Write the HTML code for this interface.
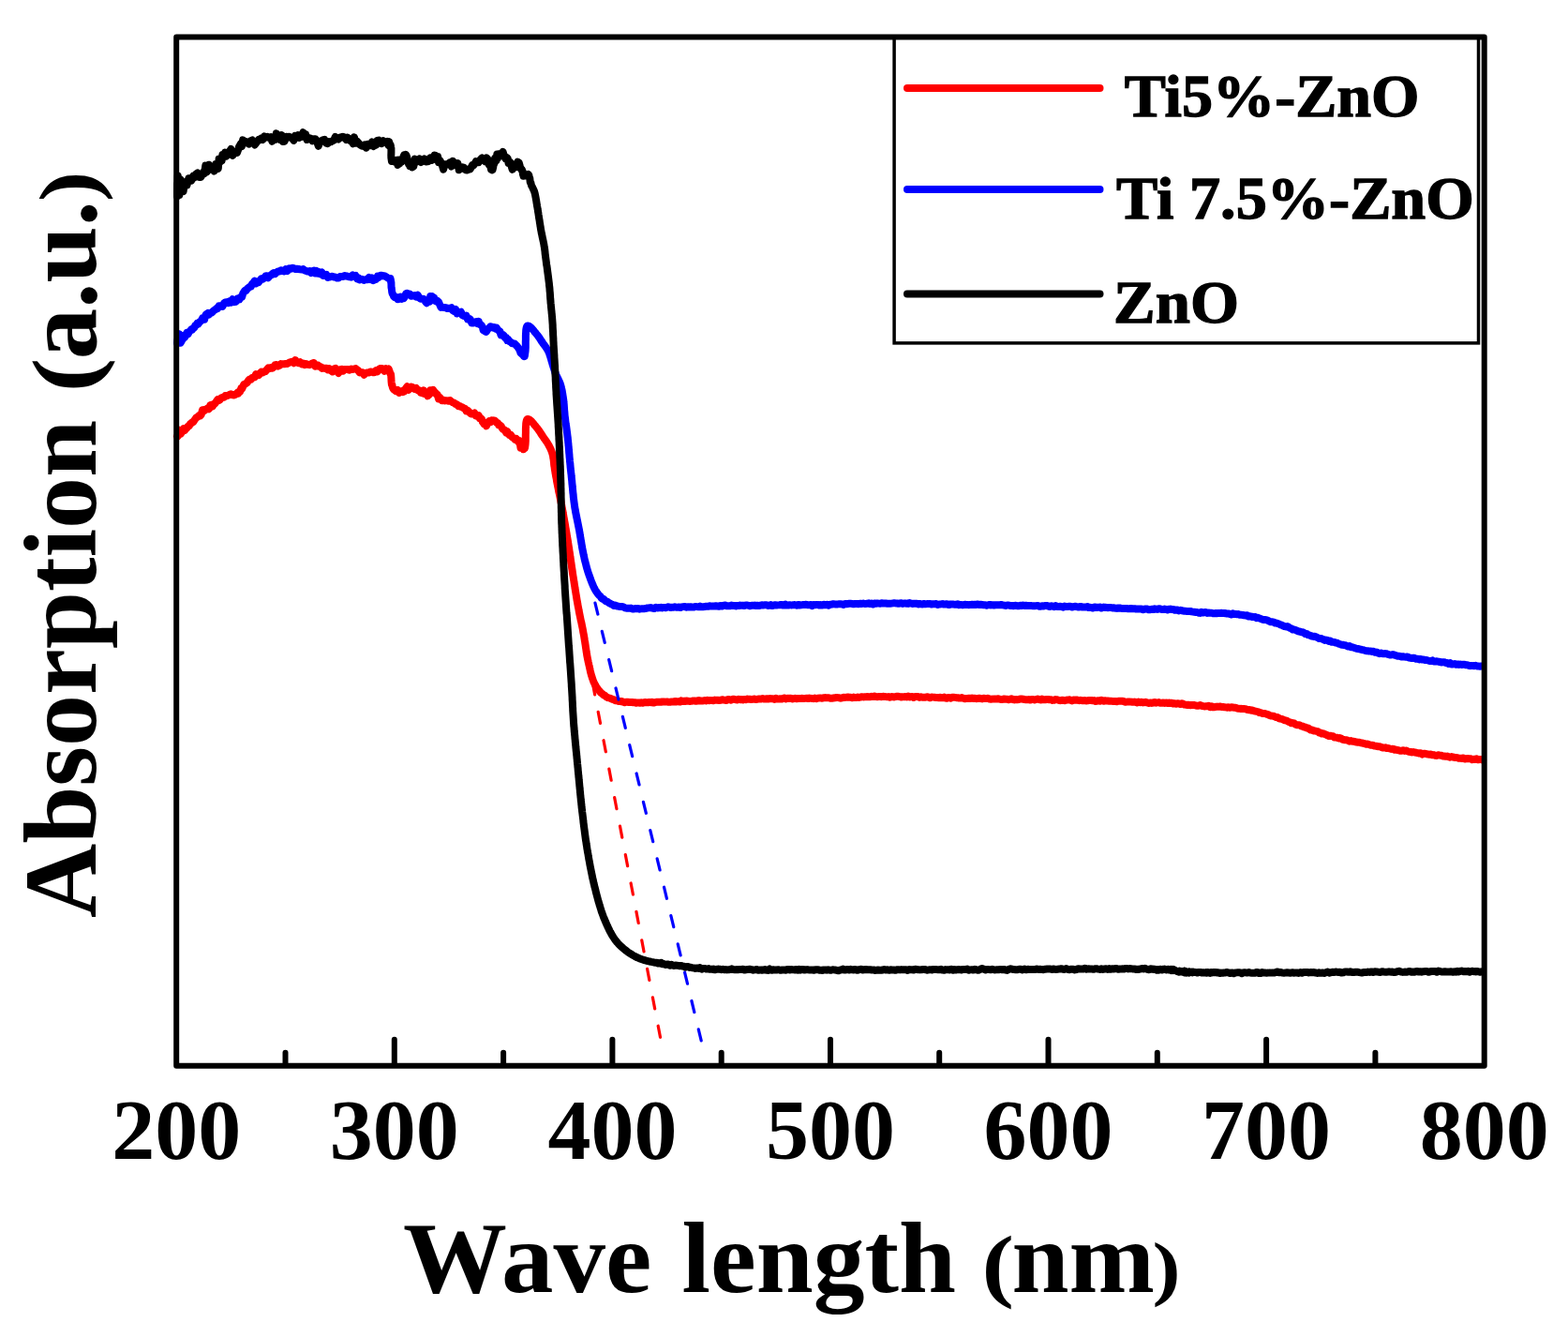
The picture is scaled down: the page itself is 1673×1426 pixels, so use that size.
<!DOCTYPE html>
<html><head><meta charset="utf-8"><title>Absorption spectra</title><style>html,body{margin:0;padding:0;background:#fff;}svg{display:block;}</style></head><body>
<svg width="1673" height="1426" viewBox="0 0 1673 1426">
<rect width="100%" height="100%" fill="#ffffff"/>
<g fill="none" stroke-width="8" stroke-linejoin="round" stroke-linecap="round">
<path d="M189.0,465.4 L189.4,465.7 L190.0,463.6 L191.1,458.6 L192.5,463.0 L194.2,460.8 L195.8,457.2 L197.0,459.1 L198.1,457.6 L199.3,456.5 L200.6,454.8 L201.8,454.3 L203.0,452.0 L204.0,451.6 L205.1,450.2 L206.1,450.2 L207.2,448.6 L208.2,447.1 L209.3,445.5 L210.4,444.9 L211.6,444.1 L212.7,442.8 L213.7,443.4 L214.8,442.1 L216.0,437.3 L217.1,437.1 L218.2,437.8 L219.4,436.6 L220.6,436.2 L221.8,435.3 L223.0,436.2 L224.3,432.1 L225.5,431.8 L226.9,433.3 L228.2,431.0 L229.6,430.2 L230.9,428.1 L232.2,426.1 L233.5,427.1 L234.8,426.3 L236.0,424.3 L237.5,423.9 L239.0,423.7 L240.4,422.0 L241.8,422.2 L243.2,421.7 L244.6,421.1 L246.3,420.2 L248.1,421.2 L249.9,421.4 L251.6,420.6 L253.2,418.9 L254.3,419.6 L255.4,417.3 L256.3,417.4 L257.3,414.1 L258.2,414.6 L259.2,412.3 L260.3,409.9 L261.4,409.7 L262.6,408.9 L263.8,408.0 L265.1,405.7 L266.4,404.5 L267.7,404.7 L269.0,403.0 L270.4,402.7 L271.7,402.4 L273.1,399.1 L274.5,400.1 L276.0,400.3 L277.5,398.0 L278.9,396.7 L280.4,397.5 L281.9,396.3 L283.3,396.2 L284.8,394.2 L286.2,392.4 L287.7,393.1 L289.1,392.1 L290.5,392.7 L292.0,391.6 L293.4,389.2 L294.8,389.1 L296.5,390.6 L298.2,389.9 L299.9,388.1 L301.6,388.3 L303.2,388.3 L304.8,388.0 L306.6,387.9 L308.4,386.8 L310.1,386.1 L312.0,385.7 L313.5,387.2 L315.1,384.1 L316.8,386.6 L318.5,387.2 L320.2,386.2 L321.9,388.3 L323.5,387.5 L325.2,389.1 L326.9,388.1 L328.5,388.8 L330.2,389.2 L331.8,388.4 L333.5,387.3 L334.9,387.0 L336.3,390.7 L337.7,389.4 L339.2,389.5 L340.6,390.9 L342.0,391.2 L343.5,392.9 L345.0,392.5 L346.6,393.0 L348.2,392.7 L349.8,394.3 L351.4,393.2 L353.1,395.3 L354.7,396.4 L356.3,393.6 L357.9,392.8 L359.6,396.0 L361.2,397.9 L362.9,394.2 L364.6,393.8 L366.2,395.5 L367.8,393.9 L369.4,394.1 L371.1,394.1 L372.9,394.7 L374.7,393.5 L376.3,394.0 L377.9,393.5 L379.4,393.1 L381.0,394.5 L382.3,395.1 L383.6,397.4 L385.2,397.1 L386.7,397.3 L388.4,399.7 L390.2,397.8 L392.0,397.4 L393.7,397.5 L395.2,396.4 L396.9,396.6 L398.4,397.3 L400.0,397.0 L401.3,395.1 L402.8,396.3 L404.2,394.1 L405.7,393.0 L407.2,392.9 L408.7,393.5 L410.2,395.7 L411.8,393.3 L413.4,395.2 L414.7,393.6 L415.8,396.7 L416.5,398.8 L417.0,399.2 L417.2,400.5 L417.4,403.2 L417.5,405.6 L417.6,407.3 L417.9,410.2 L418.2,410.0 L418.5,410.8 L418.8,412.8 L419.3,414.2 L420.1,415.5 L421.2,416.2 L422.6,417.2 L424.2,416.0 L425.8,418.9 L427.3,417.7 L428.7,417.0 L429.9,418.2 L431.0,417.7 L432.0,415.6 L433.1,414.1 L434.4,412.3 L435.7,416.0 L437.2,414.1 L438.9,412.5 L440.6,413.4 L442.3,414.9 L444.1,414.0 L445.7,416.4 L447.3,416.3 L448.9,418.7 L450.5,419.3 L452.1,416.5 L453.6,420.2 L455.1,419.2 L456.3,422.3 L457.4,421.3 L458.5,420.2 L459.2,416.3 L460.3,417.9 L461.1,418.3 L462.1,415.8 L463.1,418.3 L464.3,418.5 L465.5,420.6 L466.7,420.8 L468.0,425.4 L469.3,424.0 L470.5,425.7 L471.7,427.3 L473.4,426.8 L475.1,427.4 L476.8,427.2 L478.5,427.8 L480.3,427.1 L481.7,428.4 L483.1,429.2 L484.6,429.8 L486.1,430.9 L487.6,431.3 L489.0,433.2 L490.5,432.9 L491.8,433.9 L493.3,434.3 L494.7,435.4 L496.1,435.6 L497.5,438.4 L498.9,437.7 L500.4,439.1 L501.8,440.9 L503.3,441.6 L504.8,441.5 L506.3,440.5 L507.9,443.6 L509.3,444.1 L510.7,443.2 L511.9,446.3 L513.0,446.0 L514.0,447.0 L514.8,449.8 L515.6,450.9 L516.5,452.3 L517.6,451.1 L518.9,454.4 L520.3,451.2 L521.9,449.1 L523.4,450.1 L524.9,448.3 L526.3,448.7 L527.5,448.4 L528.7,449.4 L529.9,450.8 L531.0,450.9 L532.2,453.6 L533.4,453.6 L534.5,454.2 L535.6,456.3 L536.7,457.8 L537.8,458.3 L538.9,458.9 L540.1,461.5 L541.2,460.3 L542.4,462.1 L543.5,464.1 L545.0,463.8 L546.4,466.2 L547.9,467.0 L549.4,468.8 L550.8,467.9 L552.1,469.3 L553.3,471.5 L554.4,470.3 L555.5,477.6 L556.6,475.4 L557.6,476.7 L558.5,479.2 L559.3,478.5 L559.7,476.4 L560.0,478.1 L560.2,476.5 L560.4,475.3 L560.6,473.8 L560.7,472.1 L560.8,470.2 L560.8,468.2 L560.8,466.1 L560.8,463.9 L560.9,461.8 L560.9,459.6 L560.9,457.5 L561.0,455.5 L561.1,453.6 L561.2,451.8 L561.4,450.3 L561.7,449.0 L562.0,448.0 L562.3,447.3 L562.8,446.9 L563.7,446.9 L564.8,447.5 L566.0,448.4 L567.3,449.7 L568.6,451.2 L569.9,452.7 L571.1,454.2 L572.2,455.5 L573.2,456.7 L574.1,457.9 L575.1,459.2 L575.9,460.5 L576.8,461.8 L577.6,463.1 L578.5,464.4 L579.3,465.6 L580.3,467.1 L581.3,468.5 L582.3,469.9 L583.3,471.3 L584.2,472.7 L585.1,474.2 L585.8,475.5 L586.5,476.8 L587.2,478.2 L587.8,479.5 L588.4,481.0 L588.9,482.4 L589.4,484.0 L589.8,485.4 L590.1,486.9 L590.3,488.5 L590.6,490.0 L590.8,491.7 L591.0,493.3 L591.1,495.0 L591.3,496.7 L591.6,498.3 L591.8,500.0 L592.0,501.5 L592.3,502.9 L592.5,504.4 L592.8,505.9 L593.0,507.4 L593.3,508.8 L593.6,510.3 L593.9,511.9 L594.1,513.4 L594.4,514.9 L594.7,516.4 L595.0,518.0 L595.3,519.5 L595.6,520.9 L595.9,522.3 L596.1,523.8 L596.4,525.2 L596.8,526.7 L597.1,528.1 L597.4,529.6 L597.7,531.1 L598.0,532.7 L598.3,534.3 L598.6,535.9 L599.0,537.6 L599.3,539.3 L599.5,540.6 L599.8,541.9 L600.0,543.3 L600.3,544.7 L600.6,546.1 L600.8,547.5 L601.1,549.0 L601.3,550.5 L601.6,552.0 L601.9,553.5 L602.1,555.0 L602.4,556.6 L602.7,558.1 L603.0,559.7 L603.2,561.3 L603.5,562.9 L603.8,564.5 L604.0,566.0 L604.3,567.6 L604.6,569.2 L604.8,570.8 L605.1,572.3 L605.3,573.9 L605.6,575.4 L605.9,577.0 L606.1,578.5 L606.3,580.0 L606.6,581.5 L606.8,583.1 L607.1,584.6 L607.3,586.1 L607.5,587.7 L607.8,589.2 L608.0,590.8 L608.2,592.3 L608.4,593.9 L608.7,595.4 L608.9,597.0 L609.1,598.5 L609.3,600.0 L609.6,601.6 L609.8,603.1 L610.0,604.6 L610.2,606.1 L610.5,607.6 L610.7,609.1 L610.9,610.6 L611.1,612.1 L611.3,613.5 L611.6,615.0 L611.8,616.4 L612.0,617.8 L612.3,619.4 L612.5,621.1 L612.8,622.7 L613.0,624.3 L613.3,625.8 L613.5,627.4 L613.8,628.9 L614.0,630.5 L614.3,632.0 L614.5,633.5 L614.8,635.0 L615.0,636.6 L615.3,638.1 L615.5,639.6 L615.8,641.1 L616.1,642.6 L616.3,644.1 L616.6,645.7 L616.9,647.2 L617.2,648.7 L617.5,650.2 L617.7,651.6 L618.0,653.1 L618.3,654.6 L618.6,656.1 L618.9,657.5 L619.2,659.0 L619.5,660.5 L619.8,662.0 L620.2,663.4 L620.5,664.9 L620.8,666.4 L621.1,667.8 L621.4,669.3 L621.7,670.8 L622.0,672.3 L622.2,673.7 L622.5,675.2 L622.8,676.7 L623.1,678.3 L623.3,679.8 L623.6,681.4 L623.8,682.9 L624.1,684.5 L624.3,686.1 L624.6,687.7 L624.8,689.3 L625.0,690.8 L625.3,692.4 L625.5,694.0 L625.7,695.5 L626.0,697.1 L626.2,698.6 L626.5,700.1 L626.8,701.7 L627.1,703.2 L627.4,704.6 L627.7,706.1 L628.1,707.7 L628.4,709.3 L628.8,710.8 L629.1,712.4 L629.5,714.0 L629.8,715.6 L630.2,717.2 L630.6,718.7 L631.0,720.2 L631.5,721.7 L631.9,723.1 L632.4,724.5 L632.9,725.9 L633.4,727.2 L634.0,728.5 L634.6,729.7 L635.4,731.2 L636.2,732.5 L637.1,733.9 L638.0,735.1 L639.0,736.4 L640.0,737.5 L641.0,738.8 L642.1,739.5 L643.2,740.5 L644.4,741.6 L645.7,742.1 L647.1,743.4 L648.6,744.1 L650.1,744.5 L651.6,744.9 L653.2,745.8 L654.8,746.1 L656.5,747.2 L658.2,747.3 L659.6,747.9 L660.9,747.9 L662.3,748.2 L663.7,748.1 L665.1,748.7 L666.5,749.2 L668.0,748.7 L669.5,748.7 L671.1,749.0 L672.7,748.9 L674.3,749.0 L676.0,749.3 L677.8,749.2 L679.0,749.8 L680.3,749.4 L681.6,749.5 L682.9,749.7 L684.2,749.3 L685.6,749.8 L687.0,749.2 L688.4,749.1 L689.8,749.2 L691.3,749.3 L692.7,748.9 L694.2,749.2 L695.7,748.7 L697.2,749.6 L698.8,749.1 L700.3,748.8 L701.9,748.7 L703.5,748.8 L705.1,748.8 L706.7,748.5 L708.3,748.4 L710.0,748.6 L711.6,748.4 L713.3,748.8 L714.9,748.8 L716.6,748.4 L718.3,748.5 L720.0,747.9 L721.3,748.5 L722.7,748.2 L724.0,748.3 L725.4,748.6 L726.8,747.4 L728.2,748.1 L729.6,747.7 L731.0,748.1 L732.4,747.5 L733.8,747.7 L735.3,747.9 L736.7,747.9 L738.2,747.7 L739.7,747.4 L741.1,747.4 L742.6,747.8 L744.1,747.5 L745.6,746.9 L747.1,747.6 L748.6,747.5 L750.2,747.5 L751.7,747.1 L753.2,747.4 L754.8,746.8 L756.3,747.2 L757.9,746.9 L759.4,747.1 L761.0,747.2 L762.5,746.6 L764.1,746.8 L765.7,746.7 L767.3,747.0 L768.9,746.8 L770.5,746.2 L772.0,746.6 L773.6,746.7 L775.2,747.0 L776.8,745.9 L778.4,746.2 L780.0,746.7 L781.7,745.8 L783.3,745.8 L784.9,746.3 L786.5,746.4 L788.1,745.8 L789.7,746.2 L791.1,746.0 L792.6,746.4 L794.0,745.9 L795.5,746.2 L797.0,745.6 L798.4,745.7 L799.9,745.7 L801.4,746.1 L802.9,745.9 L804.4,745.5 L806.0,745.9 L807.5,745.9 L809.0,745.6 L810.6,745.5 L812.1,745.5 L813.7,745.0 L815.2,745.5 L816.8,745.5 L818.4,745.2 L819.9,745.6 L821.5,745.0 L823.1,745.2 L824.6,745.2 L826.2,745.9 L827.8,744.8 L829.4,745.4 L831.0,745.5 L832.6,745.3 L834.1,745.6 L835.7,744.9 L837.3,744.5 L838.9,745.4 L840.4,744.8 L842.0,745.0 L843.6,744.7 L845.2,745.4 L846.7,745.3 L848.3,744.8 L849.8,745.3 L851.4,745.0 L852.9,744.9 L854.5,744.9 L856.0,744.8 L857.5,745.1 L859.0,744.9 L860.6,744.7 L862.1,745.1 L863.6,744.6 L865.0,744.8 L866.5,744.9 L868.0,745.2 L869.4,744.5 L870.9,745.2 L872.3,744.7 L873.7,744.6 L875.1,744.4 L876.5,744.7 L877.9,744.5 L879.3,744.2 L881.0,744.1 L882.6,744.3 L884.3,744.2 L885.9,744.7 L887.6,744.7 L889.2,744.5 L890.8,744.3 L892.3,744.0 L893.9,744.1 L895.5,744.3 L897.0,744.7 L898.6,744.3 L900.1,743.8 L901.7,743.9 L903.2,743.7 L904.7,743.5 L906.2,743.7 L907.7,743.7 L909.2,744.2 L910.7,743.6 L912.2,744.0 L913.7,744.0 L915.2,743.5 L916.6,743.9 L918.1,743.6 L919.6,743.2 L921.1,743.4 L922.6,743.3 L924.1,743.2 L925.5,743.1 L927.0,743.2 L928.5,743.3 L930.0,742.8 L931.5,743.1 L933.0,742.6 L934.5,743.1 L936.0,743.2 L937.6,743.1 L939.1,743.1 L940.6,743.2 L942.2,742.8 L943.7,742.9 L945.2,743.1 L946.7,743.3 L948.2,743.1 L949.7,743.8 L951.2,743.0 L952.7,743.3 L954.1,743.4 L955.6,743.0 L957.1,742.8 L958.6,742.7 L960.1,743.2 L961.6,743.5 L963.0,743.2 L964.5,743.2 L966.0,743.1 L967.5,743.4 L969.0,742.6 L970.5,743.4 L972.0,743.3 L973.5,742.9 L975.0,744.0 L976.5,743.0 L978.1,743.1 L979.6,743.1 L981.2,743.9 L982.7,743.3 L984.3,743.8 L985.9,743.8 L987.4,743.7 L989.0,743.3 L990.6,743.5 L992.3,744.3 L993.9,743.4 L995.6,743.6 L997.2,743.8 L998.9,744.1 L1000.3,744.0 L1001.7,744.2 L1003.0,743.7 L1004.4,744.3 L1005.8,744.2 L1007.3,743.6 L1008.7,744.6 L1010.1,744.8 L1011.6,743.9 L1013.0,744.2 L1014.5,744.7 L1015.9,743.8 L1017.4,743.7 L1018.9,743.9 L1020.4,744.2 L1021.9,744.2 L1023.4,744.6 L1024.9,744.6 L1026.4,744.1 L1027.9,744.7 L1029.4,745.2 L1030.9,745.0 L1032.5,745.0 L1034.0,744.7 L1035.5,745.0 L1037.1,744.5 L1038.6,745.0 L1040.2,744.8 L1041.7,745.2 L1043.3,745.1 L1044.8,744.7 L1046.4,745.1 L1048.0,745.4 L1049.5,744.8 L1051.1,745.0 L1052.7,744.9 L1054.2,744.8 L1055.8,745.5 L1057.4,745.7 L1058.9,745.6 L1060.5,745.4 L1062.1,745.4 L1063.6,745.5 L1065.2,745.3 L1066.8,745.8 L1068.4,745.9 L1069.9,745.9 L1071.5,745.5 L1073.0,745.7 L1074.6,745.7 L1076.2,746.3 L1077.7,745.8 L1079.3,745.2 L1080.8,746.0 L1082.4,746.4 L1083.9,746.1 L1085.4,746.2 L1087.0,746.0 L1088.5,745.4 L1090.0,745.5 L1091.5,745.7 L1093.0,746.0 L1094.6,746.2 L1096.1,746.3 L1097.6,746.1 L1099.2,746.5 L1100.8,746.1 L1102.3,746.0 L1103.9,746.5 L1105.5,746.0 L1107.1,745.5 L1108.6,746.0 L1110.2,746.4 L1111.8,745.5 L1113.4,746.3 L1115.0,746.3 L1116.7,746.0 L1118.3,746.0 L1119.9,746.3 L1121.5,746.3 L1123.1,746.9 L1124.7,746.7 L1126.3,746.1 L1127.9,746.3 L1129.5,746.8 L1131.1,747.2 L1132.7,746.8 L1134.3,746.8 L1135.9,747.2 L1137.5,746.7 L1139.1,746.6 L1140.6,746.3 L1142.2,746.6 L1143.8,747.4 L1145.3,746.4 L1146.8,746.8 L1148.4,746.4 L1149.9,746.9 L1151.4,747.2 L1152.9,746.8 L1154.4,747.2 L1155.9,747.2 L1157.4,747.1 L1158.8,747.5 L1160.3,747.3 L1161.7,747.0 L1163.1,746.9 L1164.5,746.9 L1165.9,747.3 L1167.3,747.1 L1168.6,748.0 L1170.0,747.8 L1171.3,747.2 L1172.6,747.2 L1173.9,747.8 L1175.1,746.8 L1176.4,747.3 L1177.6,747.7 L1178.8,747.2 L1180.0,747.4 L1181.8,747.5 L1183.6,747.8 L1185.3,747.7 L1187.0,747.9 L1188.6,748.0 L1190.2,747.9 L1191.8,748.3 L1193.4,747.8 L1194.9,747.7 L1196.4,747.7 L1197.9,747.8 L1199.3,748.2 L1200.8,748.8 L1202.2,748.6 L1203.6,748.4 L1205.0,748.4 L1206.4,748.6 L1207.8,748.7 L1209.2,748.8 L1210.6,748.6 L1212.0,748.9 L1213.4,749.4 L1214.8,748.5 L1216.3,749.2 L1217.7,748.7 L1219.3,749.4 L1220.9,749.2 L1222.5,748.8 L1224.1,749.5 L1225.7,750.0 L1227.2,749.5 L1228.8,749.9 L1230.4,749.5 L1231.9,748.9 L1233.5,749.7 L1235.0,749.4 L1236.5,749.1 L1238.1,749.8 L1239.6,749.7 L1241.2,749.5 L1242.7,749.9 L1244.2,749.5 L1245.7,750.0 L1247.3,749.6 L1248.8,750.1 L1250.3,749.7 L1251.8,750.6 L1253.4,750.3 L1254.9,750.8 L1256.4,750.3 L1257.9,750.5 L1259.4,751.1 L1260.9,750.2 L1262.4,750.8 L1263.9,751.6 L1265.4,751.7 L1266.9,752.0 L1268.4,751.8 L1269.9,752.2 L1271.4,752.0 L1272.9,752.0 L1274.4,752.1 L1275.9,752.5 L1277.4,752.7 L1278.9,752.8 L1280.4,752.0 L1281.9,752.6 L1283.4,753.1 L1285.0,753.4 L1286.5,753.3 L1288.1,753.2 L1289.6,752.8 L1291.2,754.2 L1292.8,753.3 L1294.3,754.2 L1295.9,754.2 L1297.4,753.8 L1299.0,753.6 L1300.5,753.8 L1302.0,753.5 L1303.5,754.0 L1305.0,754.0 L1306.4,754.2 L1307.8,754.4 L1309.2,754.7 L1310.6,754.2 L1312.3,754.8 L1313.9,754.3 L1315.5,754.5 L1317.0,754.7 L1318.5,754.7 L1320.0,755.5 L1321.5,755.7 L1323.0,755.9 L1324.4,755.8 L1325.9,756.1 L1327.5,756.1 L1329.0,756.2 L1330.6,756.9 L1332.0,757.2 L1333.4,757.0 L1334.9,757.8 L1336.3,757.5 L1337.8,758.3 L1339.3,758.5 L1340.8,758.9 L1342.3,759.1 L1343.8,760.1 L1345.3,760.3 L1346.8,760.9 L1348.3,761.0 L1349.8,761.0 L1351.3,761.7 L1352.7,761.9 L1354.2,762.8 L1355.7,763.5 L1357.2,763.6 L1358.7,763.8 L1360.2,764.4 L1361.7,765.1 L1363.1,765.1 L1364.6,766.1 L1366.1,766.6 L1367.6,766.9 L1369.1,767.5 L1370.5,768.2 L1372.0,768.4 L1373.5,769.0 L1375.0,770.0 L1376.5,770.4 L1377.9,771.3 L1379.4,771.1 L1380.9,771.4 L1382.4,772.7 L1383.9,773.2 L1385.3,773.2 L1386.8,773.5 L1388.3,774.5 L1389.8,774.5 L1391.2,775.5 L1392.7,775.5 L1394.2,776.6 L1395.7,776.5 L1397.1,777.6 L1398.6,778.6 L1400.1,778.6 L1401.6,779.4 L1403.0,779.5 L1404.5,779.9 L1406.0,780.2 L1407.5,781.5 L1408.9,781.6 L1410.4,782.6 L1411.9,782.2 L1413.4,783.0 L1414.8,783.5 L1416.3,784.4 L1417.8,785.0 L1419.3,784.7 L1420.7,785.0 L1422.2,785.2 L1423.7,786.6 L1425.2,786.6 L1426.7,786.8 L1428.1,787.4 L1429.6,787.0 L1431.1,787.7 L1432.6,788.8 L1434.0,789.0 L1435.5,789.3 L1437.0,789.2 L1438.5,790.0 L1439.9,790.7 L1441.4,790.0 L1442.9,790.7 L1444.4,790.8 L1445.9,791.3 L1447.3,791.5 L1448.8,791.7 L1450.3,791.8 L1451.8,792.3 L1453.2,792.4 L1454.7,792.8 L1456.2,793.2 L1457.7,793.7 L1459.2,793.6 L1460.6,794.0 L1462.1,794.7 L1463.6,794.7 L1465.1,795.0 L1466.5,795.6 L1468.0,795.7 L1469.5,796.0 L1471.0,796.3 L1472.4,796.2 L1473.9,797.0 L1475.4,797.6 L1476.9,797.6 L1478.3,797.3 L1479.8,798.1 L1481.3,798.0 L1482.9,798.5 L1484.4,798.9 L1486.0,798.7 L1487.6,799.7 L1489.1,799.5 L1490.7,800.0 L1492.3,800.2 L1493.8,800.7 L1495.4,800.8 L1497.0,800.2 L1498.6,800.9 L1500.1,800.5 L1501.7,801.2 L1503.3,801.8 L1504.8,802.0 L1506.4,802.4 L1508.0,802.1 L1509.5,802.5 L1511.1,802.7 L1512.7,803.2 L1514.2,803.5 L1515.8,803.2 L1517.4,804.6 L1518.9,803.7 L1520.5,803.8 L1522.1,804.3 L1523.7,804.5 L1525.2,804.7 L1526.8,804.5 L1528.4,805.3 L1529.9,805.1 L1531.5,805.8 L1533.1,805.9 L1534.6,805.3 L1536.2,805.6 L1537.8,805.8 L1539.3,806.4 L1540.9,806.5 L1542.5,806.8 L1544.0,806.6 L1545.6,807.2 L1547.2,807.7 L1548.7,807.0 L1550.3,807.5 L1551.9,807.9 L1553.5,807.9 L1555.0,808.1 L1556.6,808.8 L1558.2,808.8 L1559.8,808.9 L1561.4,808.5 L1562.9,809.6 L1564.5,809.2 L1566.1,809.0 L1567.7,809.2 L1569.3,809.3 L1570.9,810.2 L1572.5,809.8 L1574.1,809.9 L1575.6,809.3 L1577.2,810.3 L1578.8,809.9 L1580.4,810.0 L1582.0,810.7" stroke="#ff0000"/>
<path d="M189.0,365.5 L189.4,362.9 L190.0,362.3 L191.1,356.2 L192.5,365.8 L194.2,363.0 L195.8,358.2 L197.0,360.0 L198.1,357.9 L199.3,354.9 L200.6,356.3 L201.8,354.0 L203.0,352.9 L204.0,351.4 L205.1,351.7 L206.1,350.0 L207.2,349.6 L208.2,347.3 L209.3,346.9 L210.4,344.8 L211.6,345.4 L212.7,343.8 L213.7,342.9 L214.8,342.0 L216.0,339.5 L217.1,340.3 L218.2,340.6 L219.4,335.9 L220.6,334.8 L221.8,334.0 L223.0,335.4 L224.3,333.8 L225.5,333.8 L226.9,332.5 L228.2,331.1 L229.6,330.3 L230.9,329.0 L232.2,329.2 L233.5,326.3 L234.8,326.3 L236.0,326.2 L237.5,326.9 L239.0,323.5 L240.4,322.4 L241.8,322.2 L243.2,323.1 L244.6,321.4 L246.3,322.6 L248.1,319.3 L249.9,322.2 L251.6,321.8 L253.2,318.8 L254.3,319.5 L255.4,319.5 L256.3,317.1 L257.3,316.6 L258.2,316.6 L259.2,313.1 L260.3,311.3 L261.4,309.7 L262.6,310.0 L263.8,308.0 L265.1,307.0 L266.4,306.0 L267.7,305.7 L269.0,302.9 L270.4,301.5 L271.7,299.7 L273.1,302.4 L274.5,300.5 L276.0,301.1 L277.5,298.8 L278.9,297.2 L280.4,297.7 L281.9,296.4 L283.3,294.5 L284.8,294.2 L286.2,296.2 L287.7,294.1 L289.1,293.5 L290.5,292.2 L292.0,291.2 L293.4,292.2 L294.8,290.7 L296.5,289.5 L298.2,289.6 L299.9,288.3 L301.6,289.0 L303.2,289.5 L304.8,287.2 L306.6,288.9 L308.4,286.4 L310.1,286.8 L312.0,285.7 L313.5,286.4 L315.1,286.9 L316.8,286.8 L318.5,287.0 L320.2,287.4 L321.9,287.6 L323.5,287.1 L325.2,288.5 L326.9,289.1 L328.5,289.5 L330.2,289.1 L331.8,291.0 L333.5,289.0 L334.9,288.6 L336.3,291.4 L337.7,289.0 L339.2,291.6 L340.6,290.3 L342.0,292.3 L343.5,290.5 L345.0,293.9 L346.6,293.3 L348.2,292.9 L349.8,296.0 L351.4,295.5 L353.1,295.1 L354.7,294.7 L356.3,295.6 L357.9,295.6 L359.6,296.6 L361.2,296.6 L362.9,295.1 L364.6,295.0 L366.2,294.9 L367.8,293.9 L369.4,294.5 L371.1,294.8 L372.9,295.3 L374.7,295.7 L376.3,293.4 L377.9,294.7 L379.4,294.0 L381.0,297.4 L382.3,296.5 L383.6,298.4 L385.2,297.8 L386.7,298.0 L388.4,298.9 L390.2,298.0 L392.0,298.3 L393.7,296.0 L395.2,298.0 L396.9,296.4 L398.4,299.1 L400.0,296.9 L401.3,297.8 L402.8,294.6 L404.2,295.7 L405.7,293.7 L407.2,293.8 L408.7,294.4 L410.2,294.2 L411.8,295.2 L413.4,296.2 L414.7,296.9 L415.8,297.1 L416.5,297.0 L417.0,299.1 L417.2,301.5 L417.4,301.4 L417.5,306.1 L417.6,306.9 L417.9,308.4 L418.2,311.3 L418.5,312.6 L418.8,313.6 L419.3,313.8 L420.1,316.2 L421.2,317.1 L422.6,316.7 L424.2,319.2 L425.8,319.1 L427.3,316.8 L428.7,318.8 L429.9,316.8 L431.0,318.0 L432.0,316.4 L433.1,313.3 L434.4,312.8 L435.7,313.7 L437.2,313.5 L438.9,315.7 L440.6,315.4 L442.3,315.1 L444.1,316.6 L445.7,314.7 L447.3,317.6 L448.9,318.8 L450.5,318.7 L452.1,319.0 L453.6,321.2 L455.1,323.2 L456.3,321.9 L457.4,320.5 L458.5,321.6 L459.2,316.0 L460.3,317.1 L461.1,316.2 L462.1,318.3 L463.1,317.5 L464.3,321.0 L465.5,321.4 L466.7,320.9 L468.0,322.1 L469.3,325.1 L470.5,327.8 L471.7,327.4 L473.4,328.0 L475.1,327.9 L476.8,329.0 L478.5,328.8 L480.3,329.1 L481.7,328.3 L483.1,331.1 L484.6,332.0 L486.1,330.0 L487.6,334.4 L489.0,333.6 L490.5,333.2 L491.8,332.6 L493.3,336.1 L494.7,337.0 L496.1,336.8 L497.5,336.6 L498.9,340.5 L500.4,339.7 L501.8,340.6 L503.3,344.6 L504.8,344.5 L506.3,344.0 L507.9,343.2 L509.3,345.0 L510.7,342.9 L511.9,346.1 L513.0,346.4 L514.0,347.4 L514.8,348.6 L515.6,352.1 L516.5,352.7 L517.6,353.4 L518.9,353.9 L520.3,351.4 L521.9,349.9 L523.4,348.2 L524.9,348.8 L526.3,349.7 L527.5,349.1 L528.7,350.6 L529.9,349.8 L531.0,351.7 L532.2,352.7 L533.4,353.4 L534.5,357.4 L535.6,357.5 L536.7,357.1 L537.8,358.2 L538.9,360.2 L540.1,360.0 L541.2,363.0 L542.4,362.3 L543.5,364.2 L545.0,364.7 L546.4,366.2 L547.9,366.2 L549.4,366.8 L550.8,368.4 L552.1,369.7 L553.3,371.4 L554.4,373.3 L555.5,376.5 L556.6,377.4 L557.6,377.7 L558.5,379.5 L559.3,378.3 L559.7,380.1 L560.0,378.6 L560.2,377.0 L560.4,375.8 L560.6,374.3 L560.7,372.6 L560.8,370.7 L560.8,368.7 L560.8,366.6 L560.8,364.4 L560.9,362.3 L560.9,360.1 L560.9,358.0 L561.0,356.0 L561.1,354.1 L561.2,352.3 L561.4,350.8 L561.7,349.5 L562.0,348.5 L562.3,347.8 L562.8,347.4 L563.7,347.4 L564.8,348.0 L566.0,348.9 L567.3,350.2 L568.6,351.7 L569.9,353.2 L571.1,354.7 L572.2,356.0 L573.2,357.2 L574.1,358.4 L575.1,359.7 L575.9,361.0 L576.8,362.3 L577.6,363.6 L578.5,364.9 L579.3,366.1 L580.3,367.5 L581.4,368.9 L582.4,370.3 L583.3,371.7 L584.3,373.1 L585.1,374.7 L585.7,376.0 L586.2,377.4 L586.7,378.9 L587.2,380.4 L587.7,382.0 L588.1,383.5 L588.5,385.1 L589.0,386.6 L589.4,388.0 L589.9,389.6 L590.4,391.2 L590.9,392.8 L591.4,394.4 L591.9,395.9 L592.4,397.4 L593.0,399.0 L593.6,400.4 L594.2,401.7 L594.9,403.0 L595.6,404.4 L596.2,405.7 L596.9,407.1 L597.5,408.5 L598.0,410.0 L598.4,411.4 L598.8,412.8 L599.1,414.2 L599.5,415.7 L599.8,417.2 L600.0,418.7 L600.3,420.3 L600.5,421.8 L600.8,423.4 L601.0,425.0 L601.2,426.4 L601.4,427.9 L601.5,429.3 L601.7,430.8 L601.8,432.3 L601.9,433.8 L602.0,435.3 L602.1,436.9 L602.2,438.4 L602.4,440.0 L602.5,441.5 L602.6,443.1 L602.8,444.6 L603.0,446.1 L603.2,447.6 L603.3,449.0 L603.5,450.5 L603.7,452.0 L604.0,453.5 L604.2,454.9 L604.4,456.4 L604.6,457.9 L604.8,459.5 L605.0,461.0 L605.2,462.6 L605.4,464.2 L605.6,465.8 L605.8,467.2 L605.9,468.7 L606.1,470.2 L606.2,471.8 L606.4,473.3 L606.5,474.9 L606.7,476.5 L606.8,478.2 L607.0,479.8 L607.1,481.4 L607.2,483.0 L607.4,484.6 L607.5,486.2 L607.6,487.7 L607.8,489.2 L607.9,490.7 L608.0,492.1 L608.2,493.5 L608.3,494.8 L608.5,496.5 L608.6,498.1 L608.8,499.6 L608.9,501.0 L609.1,502.4 L609.2,503.8 L609.4,505.2 L609.6,506.7 L609.7,508.3 L609.9,510.0 L610.0,511.3 L610.2,512.7 L610.3,514.1 L610.4,515.6 L610.6,517.1 L610.7,518.6 L610.9,520.2 L611.0,521.8 L611.2,523.4 L611.3,525.0 L611.5,526.6 L611.7,528.3 L611.8,529.9 L612.0,531.5 L612.2,533.1 L612.4,534.7 L612.6,536.3 L612.8,537.8 L613.0,539.3 L613.2,540.8 L613.5,542.4 L613.8,543.9 L614.0,545.4 L614.3,546.9 L614.6,548.4 L614.9,549.9 L615.2,551.4 L615.5,552.8 L615.8,554.3 L616.1,555.8 L616.4,557.3 L616.7,558.8 L617.0,560.3 L617.3,561.8 L617.6,563.3 L617.9,564.8 L618.2,566.3 L618.4,567.8 L618.7,569.4 L619.0,570.9 L619.2,572.5 L619.5,574.0 L619.7,575.6 L620.0,577.1 L620.3,578.7 L620.5,580.3 L620.8,581.8 L621.0,583.4 L621.3,584.9 L621.6,586.4 L621.9,587.9 L622.2,589.4 L622.5,590.9 L622.8,592.3 L623.2,593.9 L623.5,595.6 L623.9,597.2 L624.3,598.8 L624.7,600.3 L625.1,601.9 L625.5,603.4 L625.9,605.0 L626.3,606.5 L626.8,608.0 L627.2,609.5 L627.7,611.0 L628.2,612.4 L628.7,613.9 L629.3,615.5 L629.8,617.0 L630.4,618.6 L631.0,620.2 L631.6,621.7 L632.3,623.3 L632.9,624.7 L633.6,626.2 L634.3,627.6 L635.0,629.0 L635.8,630.3 L636.6,631.5 L637.5,632.8 L638.5,634.1 L639.6,635.3 L640.6,636.0 L641.7,637.8 L642.8,638.8 L644.0,638.7 L645.2,640.2 L646.4,641.2 L647.7,641.6 L649.1,642.6 L650.5,643.3 L651.9,644.3 L653.4,644.8 L654.9,646.0 L656.5,645.6 L658.2,646.5 L659.5,646.6 L660.9,647.0 L662.3,646.9 L663.8,646.9 L665.3,647.5 L666.8,648.3 L668.4,648.7 L669.9,648.7 L671.5,648.8 L673.1,648.6 L674.7,649.4 L676.2,649.5 L677.8,649.0 L679.3,649.3 L680.8,649.0 L682.2,649.7 L683.6,649.4 L685.0,649.2 L686.4,649.2 L687.9,649.2 L689.4,648.8 L690.9,648.4 L692.5,648.3 L694.2,648.1 L696.0,648.6 L698.0,649.0 L700.0,647.8 L701.0,648.3 L702.1,648.4 L703.2,647.9 L704.3,648.2 L705.5,647.8 L706.7,648.4 L707.9,647.9 L709.1,648.0 L710.4,648.2 L711.7,647.8 L713.0,647.3 L714.4,647.7 L715.7,648.0 L717.1,647.7 L718.5,647.8 L720.0,647.3 L721.5,647.7 L722.9,647.8 L724.4,647.5 L725.9,648.1 L727.5,647.4 L729.0,647.1 L730.6,646.9 L732.2,647.7 L733.8,647.2 L735.4,647.5 L737.0,647.3 L738.6,647.6 L740.3,647.5 L741.9,646.9 L743.6,647.1 L745.2,647.3 L746.9,646.5 L748.6,647.3 L750.3,647.2 L751.9,647.1 L753.6,646.7 L755.3,646.8 L757.0,646.3 L758.7,646.6 L760.4,646.4 L762.1,646.5 L763.8,646.3 L765.4,646.5 L767.1,646.7 L768.8,646.0 L770.5,646.6 L772.1,645.7 L773.8,645.6 L775.4,646.2 L777.1,646.2 L778.7,646.3 L780.3,645.6 L781.9,646.0 L783.5,646.1 L785.1,646.4 L786.6,645.9 L788.2,646.1 L789.7,645.6 L791.2,645.8 L792.7,645.7 L794.3,646.0 L795.8,645.5 L797.4,645.5 L798.9,645.9 L800.4,646.3 L802.0,645.8 L803.5,645.8 L805.1,645.6 L806.7,646.0 L808.2,645.8 L809.8,646.1 L811.4,645.7 L812.9,645.3 L814.5,645.4 L816.1,645.3 L817.6,645.2 L819.2,645.9 L820.8,645.8 L822.3,645.1 L823.9,646.0 L825.5,645.6 L827.0,645.2 L828.6,645.6 L830.2,645.4 L831.7,645.2 L833.3,644.9 L834.9,645.4 L836.4,645.5 L838.0,644.6 L839.5,645.6 L841.1,645.6 L842.6,645.2 L844.1,645.4 L845.7,645.3 L847.2,645.1 L848.7,645.2 L850.3,645.7 L851.8,644.9 L853.3,645.4 L854.8,645.3 L856.3,645.1 L857.8,645.1 L859.3,644.8 L860.8,645.0 L862.2,645.2 L863.7,645.3 L865.2,644.9 L866.6,646.1 L868.1,645.0 L869.5,645.2 L870.9,645.1 L872.3,645.0 L873.8,645.5 L875.2,644.9 L876.5,645.4 L877.9,645.4 L879.3,644.7 L881.0,645.3 L882.6,644.7 L884.3,645.7 L885.9,644.7 L887.6,644.5 L889.2,644.2 L890.8,644.4 L892.3,644.5 L893.9,644.4 L895.5,644.2 L897.0,644.3 L898.6,644.4 L900.1,644.9 L901.7,643.9 L903.2,644.2 L904.7,644.0 L906.2,643.8 L907.7,643.8 L909.2,643.9 L910.7,644.3 L912.2,644.0 L913.7,643.9 L915.2,644.2 L916.6,644.0 L918.1,643.8 L919.6,644.0 L921.1,643.6 L922.6,644.0 L924.1,643.9 L925.5,643.6 L927.0,643.3 L928.5,644.1 L930.0,643.6 L931.5,644.5 L933.0,643.4 L934.5,643.8 L936.0,643.4 L937.6,643.6 L939.1,643.8 L940.6,643.3 L942.2,643.5 L943.7,643.5 L945.2,643.5 L946.7,643.7 L948.2,643.8 L949.7,643.8 L951.2,643.6 L952.7,643.4 L954.1,643.2 L955.6,643.4 L957.1,643.4 L958.6,643.8 L960.1,643.5 L961.6,643.3 L963.0,643.9 L964.5,643.5 L966.0,643.5 L967.5,643.7 L969.0,643.9 L970.5,643.1 L972.0,643.5 L973.5,643.9 L975.0,643.8 L976.5,643.7 L978.1,643.8 L979.6,644.4 L981.2,643.9 L982.7,644.3 L984.3,644.4 L985.9,644.0 L987.4,644.3 L989.0,644.1 L990.6,644.1 L992.3,643.9 L993.9,644.6 L995.6,644.2 L997.2,644.2 L998.9,644.1 L1000.3,645.0 L1001.7,644.7 L1003.0,644.4 L1004.4,644.3 L1005.8,644.1 L1007.3,644.6 L1008.7,644.6 L1010.1,644.2 L1011.6,644.9 L1013.0,644.9 L1014.5,644.4 L1015.9,644.5 L1017.4,644.6 L1018.9,644.8 L1020.4,644.7 L1021.9,644.3 L1023.4,645.2 L1024.9,644.9 L1026.4,645.2 L1027.9,645.2 L1029.4,644.8 L1030.9,645.0 L1032.5,645.1 L1034.0,645.2 L1035.5,644.9 L1037.1,644.8 L1038.6,645.0 L1040.2,644.8 L1041.7,644.9 L1043.3,644.5 L1044.8,645.1 L1046.4,644.8 L1048.0,645.0 L1049.5,645.2 L1051.1,645.3 L1052.7,645.8 L1054.2,645.3 L1055.8,644.9 L1057.4,645.4 L1058.9,645.2 L1060.5,645.5 L1062.1,645.2 L1063.7,645.2 L1065.2,645.3 L1066.8,645.3 L1068.4,645.0 L1069.9,645.3 L1071.5,645.6 L1073.0,646.0 L1074.6,645.5 L1076.2,645.5 L1077.7,645.9 L1079.3,645.9 L1080.8,646.2 L1082.4,646.0 L1083.9,645.8 L1085.4,646.2 L1087.0,646.3 L1088.5,645.8 L1090.0,646.0 L1091.5,645.5 L1093.0,645.9 L1094.6,645.8 L1096.1,646.0 L1097.6,645.9 L1099.2,646.1 L1100.8,646.1 L1102.3,646.3 L1103.9,646.3 L1105.5,646.1 L1107.1,645.9 L1108.7,646.7 L1110.2,646.8 L1111.8,646.3 L1113.4,646.6 L1115.0,646.0 L1116.7,646.0 L1118.3,646.4 L1119.9,647.0 L1121.5,646.3 L1123.1,646.4 L1124.7,647.2 L1126.3,646.1 L1127.9,646.9 L1129.5,646.9 L1131.1,646.8 L1132.7,646.9 L1134.3,647.7 L1135.9,646.6 L1137.5,646.9 L1139.1,646.9 L1140.6,646.8 L1142.2,646.7 L1143.8,647.6 L1145.3,647.2 L1146.8,646.7 L1148.4,647.0 L1149.9,647.4 L1151.4,647.4 L1152.9,646.9 L1154.4,647.4 L1155.9,647.5 L1157.4,647.6 L1158.8,647.6 L1160.3,647.0 L1161.7,648.1 L1163.1,647.7 L1164.5,648.2 L1165.9,648.5 L1167.3,647.7 L1168.6,647.4 L1170.0,648.1 L1171.3,647.8 L1172.6,647.7 L1173.9,647.6 L1175.1,648.5 L1176.4,647.9 L1177.6,647.6 L1178.8,647.9 L1180.0,647.8 L1181.8,648.2 L1183.6,648.1 L1185.3,648.0 L1187.0,648.5 L1188.6,648.2 L1190.2,648.7 L1191.8,648.9 L1193.4,648.5 L1194.9,648.5 L1196.4,648.8 L1197.9,649.1 L1199.3,648.9 L1200.8,649.0 L1202.2,649.0 L1203.6,649.2 L1205.0,649.3 L1206.4,649.0 L1207.8,649.1 L1209.2,649.3 L1210.6,649.2 L1212.0,649.5 L1213.4,649.6 L1214.8,649.5 L1216.3,649.4 L1217.7,649.4 L1219.3,650.2 L1220.9,649.9 L1222.5,649.4 L1224.1,649.5 L1225.7,650.3 L1227.2,650.2 L1228.8,649.8 L1230.4,650.1 L1231.9,649.3 L1233.5,649.7 L1235.0,649.9 L1236.5,649.2 L1238.1,649.5 L1239.6,650.0 L1241.2,650.1 L1242.7,649.6 L1244.2,649.9 L1245.7,650.4 L1247.3,649.8 L1248.8,649.6 L1250.3,650.1 L1251.8,650.1 L1253.4,650.7 L1254.9,650.5 L1256.4,650.4 L1257.9,651.5 L1259.4,650.8 L1260.9,651.3 L1262.4,651.5 L1263.9,651.8 L1265.4,651.8 L1266.9,652.1 L1268.4,652.1 L1269.9,651.9 L1271.4,652.4 L1272.9,652.6 L1274.4,652.8 L1275.9,653.0 L1277.4,653.0 L1278.9,653.7 L1280.4,653.9 L1281.9,652.8 L1283.4,653.6 L1285.0,653.4 L1286.5,652.9 L1288.1,653.9 L1289.6,653.6 L1291.2,653.7 L1292.8,653.7 L1294.3,654.2 L1295.9,654.3 L1297.4,654.0 L1299.0,654.2 L1300.5,653.9 L1302.0,654.0 L1303.5,653.8 L1305.0,654.1 L1306.4,653.9 L1307.8,654.3 L1309.2,654.5 L1310.6,654.5 L1312.3,654.9 L1313.9,655.5 L1315.5,654.2 L1317.0,655.0 L1318.5,655.0 L1320.0,655.2 L1321.5,655.1 L1322.9,655.7 L1324.4,655.8 L1325.9,655.9 L1327.5,656.3 L1329.0,656.4 L1330.6,656.2 L1332.0,657.5 L1333.4,657.3 L1334.9,657.4 L1336.3,658.1 L1337.8,658.1 L1339.3,657.9 L1340.8,659.2 L1342.3,658.8 L1343.8,659.5 L1345.3,660.0 L1346.8,660.7 L1348.3,661.0 L1349.8,661.1 L1351.3,661.2 L1352.7,661.7 L1354.2,662.6 L1355.7,663.2 L1357.2,663.3 L1358.7,663.4 L1360.2,664.4 L1361.7,664.5 L1363.1,665.0 L1364.6,665.5 L1366.1,666.3 L1367.6,666.7 L1369.1,667.5 L1370.5,668.1 L1372.0,668.4 L1373.5,668.1 L1375.0,668.9 L1376.5,670.0 L1377.9,670.4 L1379.4,671.6 L1380.9,671.5 L1382.4,672.0 L1383.9,672.8 L1385.3,673.4 L1386.8,673.5 L1388.3,674.3 L1389.8,674.3 L1391.2,674.9 L1392.7,676.1 L1394.2,675.9 L1395.6,677.1 L1397.1,677.5 L1398.6,678.1 L1400.1,678.6 L1401.6,679.0 L1403.0,678.7 L1404.5,679.5 L1406.0,680.1 L1407.5,681.0 L1408.9,680.9 L1410.4,681.4 L1411.9,682.0 L1413.4,682.9 L1414.8,682.5 L1416.3,682.9 L1417.8,683.9 L1419.3,683.5 L1420.7,684.7 L1422.2,684.8 L1423.7,684.9 L1425.2,685.6 L1426.7,685.8 L1428.1,686.6 L1429.6,687.0 L1431.1,687.7 L1432.6,687.7 L1434.0,688.1 L1435.5,688.3 L1437.0,688.9 L1438.5,689.6 L1439.9,689.1 L1441.4,690.2 L1442.9,690.3 L1444.4,690.8 L1445.8,691.3 L1447.3,691.8 L1448.8,692.0 L1450.3,692.2 L1451.8,692.7 L1453.2,693.0 L1454.7,693.2 L1456.2,693.7 L1457.8,694.2 L1459.3,694.3 L1460.9,694.6 L1462.5,694.4 L1464.0,695.0 L1465.6,694.8 L1467.2,695.8 L1468.7,695.6 L1470.3,696.5 L1471.9,697.2 L1473.4,696.5 L1475.0,697.2 L1476.6,697.2 L1478.2,697.1 L1479.7,697.3 L1481.3,698.0 L1482.9,698.5 L1484.4,698.4 L1486.0,698.1 L1487.6,698.5 L1489.1,699.0 L1490.7,699.7 L1492.3,699.7 L1493.8,699.9 L1495.4,700.5 L1497.0,700.3 L1498.6,700.6 L1500.1,700.8 L1501.7,700.5 L1503.3,701.5 L1504.8,701.7 L1506.4,702.1 L1508.0,701.7 L1509.5,702.0 L1511.1,702.8 L1512.7,702.8 L1514.2,703.4 L1515.8,702.9 L1517.4,703.5 L1518.9,703.4 L1520.5,704.0 L1522.1,704.0 L1523.7,704.5 L1525.2,704.9 L1526.8,705.0 L1528.4,704.4 L1529.9,705.5 L1531.5,705.5 L1533.1,705.3 L1534.6,705.6 L1536.2,706.0 L1537.8,706.4 L1539.3,706.3 L1540.9,706.2 L1542.5,707.0 L1544.0,707.1 L1545.6,708.0 L1547.2,707.1 L1548.7,708.4 L1550.3,708.4 L1551.9,708.1 L1553.5,708.7 L1555.0,708.5 L1556.6,708.9 L1558.1,708.5 L1559.6,708.9 L1561.1,708.8 L1562.6,708.7 L1564.1,709.3 L1565.6,709.3 L1567.0,709.8 L1568.5,710.2 L1570.0,709.9 L1571.5,710.1 L1573.0,710.2 L1574.5,709.8 L1576.0,710.5 L1577.5,710.6 L1579.0,710.7 L1580.5,710.5 L1582.0,710.4" stroke="#0000ff"/>
<path d="M189.0,209.1 L189.1,195.9 L189.2,201.4 L189.3,196.9 L189.4,195.1 L189.6,193.8 L189.7,187.5 L189.8,190.6 L189.9,188.2 L190.0,198.3 L190.1,191.0 L190.2,190.8 L190.3,192.8 L190.4,194.0 L190.5,195.4 L190.6,199.4 L190.7,203.7 L190.8,203.7 L190.9,207.9 L191.0,205.5 L191.1,205.6 L191.3,208.1 L191.5,203.7 L191.6,198.9 L191.8,197.4 L192.0,197.0 L192.1,198.6 L192.3,191.8 L192.5,191.4 L192.7,195.1 L192.8,191.9 L192.9,195.5 L193.0,200.7 L193.2,202.1 L193.5,202.5 L194.0,204.7 L194.7,195.6 L195.6,204.2 L196.6,197.8 L197.6,194.4 L198.7,197.7 L199.5,197.6 L200.4,193.4 L201.3,190.4 L202.3,191.8 L203.2,190.2 L204.2,192.7 L205.2,189.9 L206.3,187.6 L207.3,189.4 L209.0,185.8 L210.8,184.5 L212.6,189.0 L214.4,189.0 L215.6,186.3 L216.9,183.8 L218.1,185.1 L219.3,176.6 L220.5,183.6 L221.7,182.0 L223.0,175.7 L224.8,180.0 L226.7,177.8 L228.5,182.6 L230.2,175.0 L231.2,177.1 L232.0,180.2 L232.8,179.8 L233.6,169.6 L234.3,172.1 L235.0,172.3 L235.8,168.7 L236.6,171.7 L237.4,164.9 L238.7,166.6 L240.1,162.6 L241.5,166.6 L243.1,163.0 L244.7,161.8 L246.4,159.0 L248.2,165.8 L250.0,163.7 L251.7,163.1 L252.9,163.0 L254.0,160.1 L255.0,156.7 L256.0,154.8 L257.0,153.2 L258.0,156.1 L259.1,149.4 L260.3,150.4 L261.9,150.8 L263.6,152.3 L265.4,153.6 L267.2,150.4 L269.0,149.5 L270.4,152.6 L271.8,154.5 L273.2,152.8 L274.6,150.8 L276.0,148.8 L277.5,149.2 L278.9,147.4 L280.4,148.9 L282.0,145.3 L283.7,146.7 L285.3,145.9 L287.0,147.0 L288.7,146.2 L290.3,150.8 L291.9,148.8 L293.4,149.0 L294.8,142.4 L296.3,146.4 L297.7,146.4 L299.1,149.2 L300.5,144.0 L302.0,151.0 L303.6,150.7 L305.3,145.7 L306.9,145.9 L308.6,145.8 L310.2,146.9 L311.9,147.6 L313.4,149.9 L314.9,144.9 L316.4,146.1 L317.8,144.3 L319.2,146.9 L320.6,144.5 L322.0,145.7 L323.4,141.2 L324.7,143.6 L326.1,143.3 L327.5,149.0 L328.9,148.3 L330.4,147.3 L332.0,147.8 L333.4,150.2 L334.9,148.3 L336.5,148.2 L338.2,151.4 L339.8,155.8 L341.5,150.6 L343.2,150.2 L344.8,149.2 L346.4,148.9 L347.9,152.6 L349.6,153.1 L351.3,151.1 L353.0,151.3 L354.6,150.3 L356.1,149.8 L357.7,146.0 L359.3,147.8 L361.0,148.6 L362.7,146.4 L364.4,146.7 L366.0,145.7 L367.7,146.6 L369.4,149.0 L370.8,146.7 L372.2,147.7 L373.7,150.2 L375.1,150.4 L376.6,153.2 L378.0,146.3 L379.5,152.8 L380.9,150.6 L382.5,152.4 L384.2,154.4 L385.8,155.5 L387.5,155.9 L389.1,154.5 L390.7,157.6 L392.3,153.8 L393.8,153.8 L395.4,155.1 L396.9,151.5 L398.4,156.1 L399.8,153.0 L401.2,154.7 L402.4,150.0 L404.1,149.6 L405.6,151.3 L407.2,153.0 L409.0,150.3 L410.9,152.0 L412.8,151.0 L414.3,154.7 L415.2,151.1 L415.9,155.9 L416.4,154.1 L416.8,155.1 L417.2,157.3 L417.4,157.9 L417.4,162.3 L417.3,165.9 L417.3,165.9 L417.4,168.5 L417.9,172.0 L418.8,170.8 L420.1,172.2 L421.5,172.7 L423.0,170.9 L424.4,176.0 L425.5,170.6 L426.6,174.4 L427.7,171.6 L428.9,172.3 L430.0,168.3 L431.1,165.4 L432.1,166.8 L433.0,164.8 L433.7,166.1 L434.3,167.9 L434.7,169.2 L435.1,171.1 L435.5,171.8 L436.0,174.9 L436.5,172.3 L437.3,177.0 L438.5,174.8 L439.8,178.5 L441.3,177.5 L442.8,169.6 L444.4,172.6 L445.9,171.3 L447.6,169.5 L449.3,173.0 L451.0,171.6 L452.7,169.4 L454.5,172.5 L455.9,172.3 L457.4,172.0 L459.0,168.3 L460.5,170.9 L462.0,170.1 L463.5,165.5 L464.8,166.0 L466.0,167.1 L467.1,167.0 L468.0,173.1 L468.8,171.9 L469.6,171.3 L470.5,173.4 L471.7,175.8 L473.1,180.6 L474.6,175.3 L476.3,175.3 L478.1,175.2 L479.9,173.4 L481.6,177.6 L483.2,171.9 L484.5,175.0 L485.9,174.6 L487.2,176.6 L488.4,174.2 L489.7,181.3 L490.9,178.6 L492.1,179.8 L493.3,178.3 L495.1,178.9 L496.9,181.2 L498.6,181.5 L500.4,180.3 L501.6,180.5 L502.8,178.5 L504.0,176.0 L505.2,176.4 L506.4,174.7 L507.7,172.3 L509.0,173.1 L510.6,173.3 L512.4,170.4 L514.2,168.4 L515.9,170.1 L517.6,172.2 L519.0,168.3 L520.1,169.4 L521.0,170.9 L521.8,175.6 L522.6,171.5 L523.3,177.7 L524.0,180.7 L524.8,177.2 L525.5,181.4 L526.2,178.4 L526.8,174.7 L527.5,174.3 L528.1,168.8 L528.8,168.7 L529.5,171.5 L530.3,164.4 L531.1,168.7 L532.0,164.2 L533.4,166.5 L534.9,165.3 L536.5,161.8 L538.0,166.5 L539.5,169.4 L540.6,167.9 L541.7,169.0 L542.5,173.9 L543.4,173.3 L544.4,173.0 L545.5,176.9 L546.7,180.8 L547.7,177.5 L548.9,178.8 L550.0,178.4 L551.2,174.7 L552.3,172.7 L553.6,173.3 L554.8,177.2 L555.9,180.5 L556.8,180.7 L557.4,182.8 L557.7,182.6 L557.9,186.0 L558.2,186.2 L558.5,187.8 L559.1,186.6 L560.5,187.5 L562.1,187.0 L563.6,186.0 L564.3,186.8 L564.8,189.2 L565.3,190.1 L565.7,194.3 L566.0,194.5 L566.4,195.0 L566.9,197.6 L567.6,198.9 L568.3,200.2 L569.0,201.7 L569.7,203.2 L570.3,204.9 L570.7,206.3 L571.0,207.8 L571.3,209.2 L571.6,210.8 L571.9,212.4 L572.2,214.2 L572.5,216.1 L572.7,217.3 L572.9,218.5 L573.1,219.9 L573.4,221.3 L573.6,222.8 L573.9,224.3 L574.1,225.9 L574.4,227.5 L574.6,229.1 L574.9,230.8 L575.1,232.5 L575.4,234.1 L575.7,235.8 L575.9,237.4 L576.2,239.0 L576.4,240.6 L576.7,242.1 L576.9,243.6 L577.1,245.0 L577.4,246.3 L577.6,247.5 L577.9,249.2 L578.3,250.9 L578.6,252.4 L578.9,253.8 L579.2,255.2 L579.5,256.6 L579.8,258.0 L580.1,259.5 L580.4,261.0 L580.6,262.5 L580.9,263.9 L581.1,265.4 L581.3,267.0 L581.5,268.5 L581.6,270.1 L581.8,271.6 L582.0,273.2 L582.2,274.7 L582.4,276.3 L582.6,277.8 L582.8,279.3 L583.0,280.9 L583.2,282.4 L583.5,284.0 L583.7,285.5 L583.9,287.1 L584.1,288.6 L584.3,290.1 L584.5,291.6 L584.7,293.1 L584.9,294.6 L585.1,296.2 L585.3,297.8 L585.5,299.4 L585.7,301.0 L585.9,302.5 L586.0,304.1 L586.2,305.6 L586.4,307.2 L586.5,308.7 L586.6,310.4 L586.8,312.0 L586.9,313.6 L587.0,315.2 L587.1,316.9 L587.2,318.5 L587.4,320.2 L587.5,322.0 L587.6,323.4 L587.8,324.8 L587.9,326.2 L588.0,327.6 L588.2,329.1 L588.3,330.5 L588.5,332.0 L588.6,333.6 L588.8,335.1 L588.9,336.7 L589.1,338.3 L589.2,340.0 L589.3,341.3 L589.4,342.7 L589.5,344.1 L589.6,345.6 L589.7,347.1 L589.7,348.6 L589.8,350.2 L589.9,351.7 L590.0,353.3 L590.1,354.9 L590.1,356.5 L590.2,358.1 L590.3,359.6 L590.4,361.2 L590.4,362.7 L590.5,364.3 L590.6,365.8 L590.6,367.2 L590.7,368.6 L590.8,370.0 L590.9,371.7 L591.0,373.2 L591.1,374.8 L591.2,376.3 L591.3,377.8 L591.4,379.2 L591.4,380.7 L591.5,382.1 L591.6,383.6 L591.7,385.1 L591.8,386.7 L591.9,388.3 L592.0,390.0 L592.1,391.3 L592.1,392.7 L592.2,394.1 L592.3,395.5 L592.4,397.0 L592.4,398.5 L592.5,400.0 L592.6,401.5 L592.7,403.1 L592.7,404.6 L592.8,406.2 L592.9,407.8 L593.0,409.3 L593.1,410.9 L593.1,412.5 L593.2,414.0 L593.3,415.6 L593.4,417.1 L593.5,418.6 L593.5,420.1 L593.6,421.6 L593.7,423.0 L593.8,424.6 L593.9,426.1 L594.0,427.6 L594.1,429.2 L594.2,430.7 L594.3,432.1 L594.4,433.6 L594.5,435.1 L594.6,436.6 L594.7,438.1 L594.8,439.5 L594.9,441.0 L595.0,442.5 L595.1,444.0 L595.2,445.4 L595.3,447.0 L595.4,448.5 L595.5,450.0 L595.6,451.5 L595.7,452.9 L595.7,454.4 L595.8,455.9 L595.9,457.4 L596.0,458.9 L596.1,460.4 L596.1,461.9 L596.2,463.4 L596.3,464.9 L596.4,466.4 L596.4,467.9 L596.5,469.4 L596.6,470.9 L596.7,472.5 L596.7,474.0 L596.8,475.5 L596.9,477.0 L596.9,478.5 L597.0,480.0 L597.1,481.5 L597.1,483.0 L597.2,484.4 L597.3,485.9 L597.3,487.3 L597.4,488.8 L597.5,490.2 L597.5,491.6 L597.6,493.1 L597.6,494.5 L597.7,496.0 L597.8,497.5 L597.8,499.0 L597.9,500.5 L597.9,502.0 L598.0,503.5 L598.0,505.1 L598.1,506.7 L598.1,508.3 L598.2,510.0 L598.2,511.4 L598.3,512.7 L598.3,514.1 L598.4,515.5 L598.4,516.9 L598.4,518.4 L598.4,519.8 L598.5,521.3 L598.5,522.8 L598.5,524.3 L598.6,525.8 L598.6,527.3 L598.6,528.8 L598.6,530.3 L598.7,531.9 L598.7,533.4 L598.7,535.0 L598.7,536.6 L598.8,538.1 L598.8,539.7 L598.8,541.3 L598.9,542.9 L598.9,544.5 L598.9,546.1 L599.0,547.7 L599.0,549.3 L599.1,550.9 L599.1,552.5 L599.1,554.1 L599.2,555.7 L599.2,557.3 L599.3,558.9 L599.4,560.3 L599.4,561.8 L599.5,563.3 L599.5,564.7 L599.6,566.2 L599.6,567.7 L599.7,569.1 L599.8,570.6 L599.8,572.1 L599.9,573.6 L600.0,575.1 L600.0,576.6 L600.1,578.1 L600.2,579.6 L600.2,581.2 L600.3,582.7 L600.4,584.2 L600.5,585.7 L600.5,587.2 L600.6,588.8 L600.7,590.3 L600.8,591.8 L600.9,593.4 L600.9,594.9 L601.0,596.4 L601.1,598.0 L601.2,599.5 L601.3,601.0 L601.3,602.6 L601.4,604.1 L601.5,605.6 L601.6,607.2 L601.7,608.7 L601.8,610.2 L601.9,611.7 L601.9,613.3 L602.0,614.8 L602.1,616.3 L602.2,617.8 L602.3,619.3 L602.4,620.8 L602.5,622.3 L602.6,623.8 L602.7,625.4 L602.7,626.9 L602.8,628.4 L602.9,629.9 L603.0,631.4 L603.1,632.9 L603.2,634.4 L603.3,635.9 L603.4,637.4 L603.5,638.9 L603.6,640.5 L603.7,642.0 L603.8,643.5 L603.9,645.0 L604.0,646.5 L604.1,648.0 L604.2,649.5 L604.3,651.0 L604.4,652.5 L604.5,654.0 L604.7,655.6 L604.8,657.1 L604.9,658.6 L605.0,660.1 L605.1,661.6 L605.2,663.1 L605.3,664.6 L605.4,666.1 L605.5,667.6 L605.6,669.1 L605.7,670.7 L605.8,672.2 L605.9,673.7 L606.0,675.2 L606.1,676.7 L606.2,678.2 L606.3,679.7 L606.4,681.3 L606.5,682.8 L606.6,684.4 L606.7,685.9 L606.8,687.5 L606.9,689.0 L607.1,690.6 L607.2,692.2 L607.3,693.8 L607.4,695.3 L607.5,696.9 L607.6,698.5 L607.7,700.1 L607.8,701.6 L607.9,703.2 L608.0,704.8 L608.1,706.4 L608.3,707.9 L608.4,709.5 L608.5,711.0 L608.6,712.6 L608.7,714.1 L608.8,715.6 L608.9,717.1 L609.0,718.6 L609.1,720.1 L609.2,721.6 L609.3,723.1 L609.4,724.5 L609.5,726.0 L609.6,727.4 L609.7,728.8 L609.8,730.2 L609.8,731.6 L609.9,732.9 L610.0,734.3 L610.1,735.6 L610.2,737.3 L610.3,739.1 L610.4,740.7 L610.5,742.4 L610.6,744.0 L610.6,745.5 L610.7,747.1 L610.8,748.6 L610.9,750.1 L610.9,751.6 L611.0,753.1 L611.1,754.6 L611.2,756.1 L611.2,757.6 L611.3,759.1 L611.4,760.6 L611.5,762.1 L611.6,763.6 L611.7,765.2 L611.8,766.8 L611.9,768.4 L612.0,770.0 L612.1,771.5 L612.2,772.9 L612.3,774.4 L612.5,775.9 L612.6,777.4 L612.7,778.9 L612.8,780.4 L613.0,781.9 L613.1,783.4 L613.3,784.9 L613.4,786.4 L613.5,788.0 L613.7,789.5 L613.8,791.1 L614.0,792.6 L614.1,794.2 L614.3,795.7 L614.4,797.3 L614.6,798.9 L614.7,800.5 L614.9,802.0 L615.1,803.6 L615.2,805.2 L615.4,806.8 L615.5,808.4 L615.7,810.1 L615.8,811.7 L616.0,813.3 L616.1,814.8 L616.3,816.2 L616.4,817.7 L616.6,819.2 L616.7,820.7 L616.8,822.2 L617.0,823.7 L617.1,825.3 L617.3,826.8 L617.4,828.4 L617.6,829.9 L617.7,831.5 L617.9,833.1 L618.0,834.6 L618.2,836.2 L618.3,837.8 L618.5,839.4 L618.6,840.9 L618.8,842.5 L618.9,844.1 L619.1,845.6 L619.2,847.2 L619.4,848.8 L619.5,850.3 L619.7,851.8 L619.8,853.4 L620.0,854.9 L620.2,856.4 L620.3,857.9 L620.5,859.4 L620.6,860.9 L620.8,862.4 L621.0,863.8 L621.1,865.3 L621.3,866.7 L621.5,868.3 L621.7,870.0 L621.9,871.6 L622.1,873.2 L622.3,874.8 L622.4,876.3 L622.6,877.9 L622.8,879.4 L623.0,881.0 L623.2,882.5 L623.4,884.0 L623.6,885.6 L623.8,887.1 L624.0,888.6 L624.2,890.1 L624.4,891.6 L624.6,893.1 L624.8,894.6 L625.0,896.1 L625.3,897.6 L625.5,899.1 L625.7,900.6 L626.0,902.1 L626.2,903.6 L626.4,905.2 L626.7,906.7 L626.9,908.2 L627.2,909.7 L627.5,911.2 L627.7,912.7 L628.0,914.2 L628.2,915.7 L628.5,917.2 L628.8,918.7 L629.1,920.2 L629.3,921.7 L629.6,923.2 L629.9,924.7 L630.2,926.2 L630.5,927.7 L630.8,929.2 L631.1,930.7 L631.4,932.1 L631.7,933.6 L632.0,935.1 L632.3,936.6 L632.6,938.0 L633.0,939.5 L633.3,941.0 L633.6,942.4 L634.0,943.8 L634.3,945.3 L634.7,946.7 L635.1,948.2 L635.5,949.7 L635.8,951.2 L636.2,952.7 L636.6,954.2 L637.0,955.7 L637.4,957.2 L637.8,958.7 L638.2,960.2 L638.6,961.7 L639.1,963.2 L639.5,964.7 L639.9,966.1 L640.4,967.6 L640.8,969.0 L641.3,970.4 L641.7,971.9 L642.2,973.3 L642.7,974.6 L643.2,976.0 L643.7,977.4 L644.2,978.7 L644.8,980.0 L645.3,981.3 L645.9,982.8 L646.6,984.3 L647.2,985.7 L647.9,987.2 L648.5,988.6 L649.2,990.0 L649.8,991.4 L650.5,992.8 L651.2,994.1 L652.0,995.5 L652.7,996.8 L653.5,998.1 L654.3,999.4 L655.1,1000.6 L655.9,1001.8 L656.8,1003.0 L657.7,1004.2 L658.7,1005.3 L659.7,1006.5 L660.8,1007.6 L661.9,1008.7 L663.1,1009.8 L664.2,1010.8 L665.4,1011.9 L666.7,1012.9 L667.9,1013.9 L669.2,1014.8 L670.5,1015.8 L671.8,1016.6 L673.1,1017.5 L674.5,1018.3 L675.8,1019.1 L677.2,1019.9 L678.6,1020.6 L680.0,1021.3 L681.4,1021.9 L682.8,1022.5 L684.2,1023.0 L685.7,1023.5 L687.1,1024.0 L688.7,1024.4 L690.2,1024.8 L691.7,1025.2 L693.2,1025.5 L694.8,1025.9 L696.3,1026.2 L697.9,1026.5 L699.4,1026.7 L700.9,1026.8 L702.4,1027.6 L703.9,1027.2 L705.3,1026.7 L706.7,1028.3 L708.3,1028.1 L710.0,1029.0 L711.6,1028.5 L713.1,1028.5 L714.7,1029.6 L716.2,1028.8 L717.8,1029.4 L719.3,1030.0 L720.8,1029.6 L722.3,1029.7 L723.9,1029.9 L725.4,1030.3 L726.9,1029.9 L728.5,1030.6 L729.9,1030.8 L731.4,1031.7 L732.8,1031.0 L734.2,1031.0 L735.7,1031.9 L737.1,1031.7 L738.6,1032.2 L740.2,1032.4 L741.9,1032.9 L743.7,1032.5 L745.7,1032.9 L746.8,1032.1 L747.9,1032.8 L749.0,1033.7 L750.1,1033.0 L751.3,1033.0 L752.5,1032.9 L753.7,1033.6 L754.9,1033.5 L756.2,1033.1 L757.4,1033.8 L758.7,1033.7 L760.1,1033.9 L761.4,1033.5 L762.7,1034.3 L764.1,1033.9 L765.5,1033.7 L766.9,1033.6 L768.4,1033.8 L769.8,1034.2 L771.3,1033.8 L772.8,1034.3 L774.3,1034.1 L775.9,1034.4 L777.5,1034.2 L779.1,1034.0 L780.7,1033.3 L782.3,1034.1 L784.0,1034.3 L785.7,1034.1 L787.4,1034.2 L789.1,1033.9 L790.8,1033.9 L792.6,1033.7 L794.4,1034.6 L796.2,1034.2 L798.1,1033.9 L799.9,1033.7 L801.8,1034.1 L803.7,1034.7 L805.6,1034.3 L807.6,1033.9 L808.7,1034.7 L809.7,1034.7 L810.8,1034.6 L811.9,1034.5 L813.0,1034.7 L814.1,1034.5 L815.3,1034.5 L816.4,1034.0 L817.5,1034.8 L818.7,1034.4 L819.9,1035.0 L821.1,1033.6 L822.3,1034.6 L823.5,1034.7 L824.7,1034.2 L825.9,1034.5 L827.1,1034.6 L828.4,1034.6 L829.7,1034.2 L830.9,1034.3 L832.2,1034.7 L833.5,1034.8 L834.8,1034.4 L836.1,1034.4 L837.4,1034.5 L838.7,1034.7 L840.1,1034.0 L841.4,1033.9 L842.8,1034.4 L844.1,1034.0 L845.5,1034.2 L846.9,1034.4 L848.3,1034.6 L849.6,1034.0 L851.0,1034.7 L852.5,1033.8 L853.9,1034.6 L855.3,1033.9 L856.7,1034.0 L858.2,1034.6 L859.6,1034.3 L861.1,1034.1 L862.5,1034.3 L864.0,1034.6 L865.5,1034.4 L867.0,1034.4 L868.5,1034.8 L870.0,1034.2 L871.5,1034.2 L873.0,1034.2 L874.5,1034.8 L876.0,1034.8 L877.5,1034.9 L879.1,1034.4 L880.6,1034.4 L882.1,1034.7 L883.7,1034.3 L885.2,1034.7 L886.8,1034.7 L888.4,1034.2 L889.9,1034.4 L891.5,1034.4 L893.1,1035.0 L894.7,1035.3 L896.3,1034.4 L897.8,1034.4 L899.4,1033.6 L901.0,1034.5 L902.6,1034.4 L904.2,1034.0 L905.9,1034.6 L907.5,1033.8 L909.1,1034.3 L910.7,1034.4 L912.3,1033.9 L913.9,1034.7 L915.6,1034.7 L917.2,1033.9 L918.8,1033.8 L920.5,1034.5 L922.1,1034.3 L923.7,1033.9 L925.4,1034.2 L927.0,1034.3 L928.7,1034.3 L930.3,1034.6 L932.0,1034.4 L933.6,1034.9 L935.3,1034.8 L936.9,1034.5 L938.6,1034.7 L940.2,1034.8 L941.9,1034.5 L943.5,1033.9 L945.2,1034.6 L946.9,1034.3 L948.5,1034.8 L950.2,1034.3 L951.8,1034.5 L953.5,1034.4 L955.1,1034.8 L956.8,1034.3 L958.5,1034.2 L960.1,1034.4 L961.8,1034.1 L963.4,1034.3 L965.1,1034.2 L966.7,1034.3 L968.4,1034.9 L970.0,1034.1 L971.7,1034.2 L973.3,1034.2 L974.9,1034.5 L976.6,1033.8 L978.2,1034.0 L979.9,1034.2 L981.5,1034.4 L983.1,1034.2 L984.8,1034.0 L986.4,1033.9 L988.0,1034.4 L989.6,1034.7 L991.3,1034.3 L992.9,1034.3 L994.5,1034.4 L996.1,1033.9 L997.7,1034.1 L999.3,1034.1 L1000.9,1034.3 L1002.5,1034.2 L1004.1,1033.8 L1005.7,1034.6 L1007.3,1034.8 L1008.8,1034.1 L1010.4,1034.3 L1012.0,1034.3 L1013.5,1034.5 L1015.1,1033.7 L1016.6,1034.8 L1018.2,1034.0 L1019.7,1034.6 L1021.3,1034.2 L1022.8,1034.1 L1024.3,1034.2 L1025.8,1034.5 L1027.3,1033.9 L1028.9,1034.1 L1030.4,1034.0 L1032.0,1033.6 L1033.5,1034.7 L1035.1,1034.4 L1036.7,1034.2 L1038.3,1034.6 L1040.0,1033.8 L1041.6,1034.2 L1043.3,1034.8 L1044.9,1034.5 L1046.6,1033.4 L1048.3,1033.0 L1050.0,1033.8 L1051.7,1034.5 L1053.4,1034.0 L1055.1,1034.1 L1056.8,1034.3 L1058.6,1033.8 L1060.3,1034.2 L1062.1,1034.4 L1063.8,1034.2 L1065.6,1034.2 L1067.4,1033.9 L1069.2,1034.2 L1071.0,1033.9 L1072.8,1034.5 L1074.6,1034.9 L1076.4,1033.8 L1078.2,1033.2 L1080.0,1033.8 L1081.8,1034.1 L1083.7,1034.3 L1085.5,1034.3 L1087.3,1033.7 L1089.2,1033.7 L1091.0,1034.4 L1092.9,1033.5 L1094.8,1034.3 L1096.6,1033.8 L1098.5,1034.1 L1100.3,1034.1 L1102.2,1034.1 L1104.1,1034.1 L1105.9,1033.5 L1107.8,1033.9 L1109.7,1033.8 L1111.5,1033.9 L1113.4,1034.2 L1115.3,1033.7 L1117.2,1033.5 L1119.0,1033.5 L1120.9,1033.6 L1122.8,1034.0 L1124.6,1033.4 L1126.5,1034.1 L1128.4,1033.8 L1130.2,1033.6 L1132.1,1033.2 L1133.9,1033.7 L1135.8,1033.9 L1137.6,1033.0 L1139.5,1034.0 L1141.3,1034.2 L1143.1,1033.7 L1145.0,1033.7 L1146.8,1034.4 L1148.6,1034.0 L1150.4,1033.2 L1152.2,1033.5 L1154.0,1033.5 L1155.8,1033.4 L1157.6,1032.7 L1159.4,1033.7 L1161.2,1033.3 L1163.0,1033.5 L1164.7,1033.4 L1166.5,1033.8 L1168.2,1033.3 L1169.9,1033.2 L1171.7,1033.6 L1173.4,1033.9 L1175.1,1033.3 L1176.8,1033.9 L1178.5,1033.5 L1180.2,1033.2 L1181.8,1033.9 L1183.5,1033.1 L1185.1,1033.8 L1186.7,1033.2 L1188.4,1033.6 L1190.0,1033.0 L1191.6,1033.1 L1193.2,1033.8 L1194.7,1033.5 L1196.3,1033.4 L1197.8,1033.3 L1199.3,1033.6 L1200.9,1032.9 L1202.4,1033.0 L1203.8,1033.4 L1205.3,1033.1 L1206.8,1033.2 L1208.2,1033.4 L1209.6,1033.4 L1211.0,1033.4 L1212.4,1034.1 L1213.8,1033.8 L1215.1,1033.9 L1216.5,1033.5 L1217.8,1033.3 L1219.1,1033.0 L1220.4,1033.4 L1221.7,1032.8 L1222.9,1033.4 L1224.1,1033.9 L1225.3,1034.2 L1226.5,1034.0 L1227.7,1033.3 L1228.8,1033.8 L1230.0,1033.4 L1231.1,1034.0 L1232.2,1033.7 L1233.2,1034.1 L1234.3,1034.7 L1235.3,1034.1 L1236.3,1034.7 L1237.3,1033.9 L1238.2,1033.8 L1239.1,1034.4 L1240.0,1034.6 L1240.9,1033.8 L1241.8,1034.0 L1242.6,1033.6 L1243.4,1034.0 L1244.2,1034.4 L1245.0,1034.1 L1245.7,1034.0 L1246.4,1033.7 L1247.1,1034.4 L1247.7,1034.6 L1248.4,1034.6 L1249.0,1034.5 L1249.5,1034.0 L1250.1,1035.1 L1250.6,1034.5 L1251.1,1034.5 L1251.6,1034.9 L1252.0,1033.9 L1253.9,1035.0 L1255.0,1035.4 L1256.0,1036.0 L1258.0,1036.7 L1258.4,1036.4 L1258.8,1035.6 L1259.2,1036.2 L1259.6,1036.4 L1260.1,1036.5 L1260.5,1036.0 L1261.0,1035.9 L1261.5,1036.7 L1262.1,1036.7 L1262.6,1036.6 L1263.2,1036.0 L1263.8,1037.3 L1264.4,1035.7 L1265.0,1036.6 L1265.7,1037.5 L1266.3,1036.7 L1267.0,1036.9 L1267.7,1036.5 L1268.5,1037.4 L1269.2,1036.5 L1270.0,1037.0 L1270.7,1037.0 L1271.5,1036.6 L1272.4,1037.3 L1273.2,1036.6 L1274.0,1036.8 L1274.9,1037.1 L1275.8,1037.0 L1276.7,1037.3 L1277.6,1037.5 L1278.5,1037.1 L1279.5,1037.0 L1280.5,1037.1 L1281.5,1037.1 L1282.5,1037.6 L1283.5,1037.2 L1284.5,1037.5 L1285.5,1037.3 L1286.6,1037.1 L1287.7,1037.7 L1288.8,1037.0 L1289.9,1037.4 L1291.0,1037.9 L1292.2,1037.0 L1293.3,1037.4 L1294.5,1036.9 L1295.7,1037.3 L1296.9,1036.9 L1298.1,1037.4 L1299.3,1037.3 L1300.5,1037.5 L1301.8,1038.1 L1303.1,1037.6 L1304.3,1037.8 L1305.6,1037.5 L1306.9,1037.5 L1308.3,1037.3 L1309.6,1036.9 L1310.9,1037.6 L1312.3,1038.1 L1313.7,1037.7 L1315.0,1037.4 L1316.4,1038.2 L1317.8,1037.4 L1319.2,1037.4 L1320.7,1037.2 L1322.1,1037.3 L1323.6,1037.5 L1325.0,1038.3 L1326.5,1037.5 L1328.0,1037.2 L1329.5,1037.4 L1331.0,1037.5 L1332.5,1037.0 L1334.0,1037.6 L1335.6,1037.8 L1337.1,1037.7 L1338.7,1037.8 L1340.2,1037.1 L1341.8,1037.0 L1343.4,1038.0 L1345.0,1038.0 L1346.6,1037.0 L1348.2,1037.6 L1349.8,1037.6 L1351.4,1037.7 L1353.1,1037.6 L1354.7,1037.4 L1356.4,1037.6 L1358.0,1037.6 L1359.7,1037.5 L1361.4,1036.9 L1363.1,1036.5 L1364.8,1037.2 L1366.5,1036.9 L1368.2,1037.6 L1369.9,1037.7 L1371.6,1037.6 L1373.3,1037.3 L1375.1,1037.5 L1376.8,1037.8 L1378.6,1037.2 L1380.3,1037.7 L1382.1,1037.6 L1383.9,1037.5 L1385.6,1037.9 L1387.4,1037.1 L1389.2,1037.7 L1391.0,1037.0 L1392.8,1037.1 L1394.6,1036.9 L1396.4,1037.5 L1398.2,1037.0 L1400.0,1037.3 L1401.8,1036.9 L1403.6,1037.6 L1405.4,1037.9 L1407.3,1037.3 L1409.1,1037.8 L1410.9,1037.4 L1412.8,1037.9 L1414.6,1037.2 L1416.5,1036.6 L1418.3,1037.7 L1420.2,1037.1 L1422.0,1036.8 L1423.9,1036.9 L1425.8,1036.5 L1427.6,1037.0 L1429.5,1036.7 L1431.3,1037.6 L1433.2,1037.3 L1435.1,1036.4 L1437.0,1036.5 L1438.8,1036.8 L1440.7,1036.3 L1442.6,1036.9 L1444.5,1036.9 L1446.3,1036.7 L1448.2,1036.7 L1450.1,1037.1 L1452.0,1037.4 L1453.9,1037.4 L1455.7,1036.9 L1457.6,1037.1 L1459.5,1036.6 L1461.4,1036.9 L1463.3,1036.4 L1465.1,1037.0 L1467.0,1036.3 L1468.9,1036.4 L1470.8,1036.7 L1472.6,1036.9 L1474.5,1036.2 L1476.4,1036.5 L1478.3,1036.7 L1480.1,1036.7 L1482.0,1036.3 L1483.9,1036.7 L1485.7,1036.5 L1487.6,1037.1 L1489.4,1036.8 L1491.3,1036.1 L1493.2,1035.8 L1495.0,1036.6 L1496.8,1036.9 L1498.7,1036.6 L1500.5,1036.8 L1502.4,1036.3 L1504.2,1036.0 L1506.0,1036.7 L1507.9,1036.5 L1509.7,1036.7 L1511.5,1035.9 L1513.3,1036.5 L1515.1,1036.2 L1516.9,1036.7 L1518.7,1036.2 L1520.5,1036.1 L1522.3,1036.1 L1524.1,1036.8 L1525.9,1036.3 L1527.6,1036.0 L1529.4,1035.9 L1531.2,1035.9 L1532.9,1036.8 L1534.7,1035.6 L1536.4,1036.0 L1538.1,1036.5 L1539.9,1036.6 L1541.6,1036.2 L1543.3,1036.5 L1545.0,1036.5 L1546.7,1036.5 L1548.4,1036.2 L1550.1,1036.8 L1551.8,1036.3 L1553.4,1036.7 L1555.1,1035.8 L1556.7,1036.5 L1558.4,1035.7 L1560.0,1035.6 L1561.7,1036.3 L1563.3,1035.9 L1564.9,1036.3 L1566.5,1035.8 L1568.1,1036.7 L1569.7,1036.1 L1571.2,1035.7 L1572.8,1036.2 L1574.4,1036.4 L1575.9,1035.9 L1577.5,1036.3 L1579.0,1036.8 L1580.5,1036.4 L1582.0,1036.1" stroke="#000000"/>
</g>
<g fill="none" stroke-width="3.2">
<path d="M632.1,727.3 L704.7,1107.3" stroke="#ff0000" stroke-linecap="round" stroke-dasharray="12.3 18.7" stroke-dashoffset="-1.55"/>
<path d="M634.6,641.5 L748.9,1112.8" stroke="#0000ff" stroke-linecap="round" stroke-dasharray="12.4 18.8" stroke-dashoffset="-1.55"/>
</g>
<rect x="188.2" y="39.4" width="1395.5" height="1097.3" fill="none" stroke="#000" stroke-width="6" stroke-linejoin="round"/>
<g stroke="#000" stroke-width="6" stroke-linecap="round">
<line x1="304.5" y1="1133.7" x2="304.5" y2="1122.8"/>
<line x1="420.8" y1="1133.7" x2="420.8" y2="1108.8"/>
<line x1="537.1" y1="1133.7" x2="537.1" y2="1122.8"/>
<line x1="653.4" y1="1133.7" x2="653.4" y2="1108.8"/>
<line x1="769.7" y1="1133.7" x2="769.7" y2="1122.8"/>
<line x1="886.0" y1="1133.7" x2="886.0" y2="1108.8"/>
<line x1="1002.2" y1="1133.7" x2="1002.2" y2="1122.8"/>
<line x1="1118.5" y1="1133.7" x2="1118.5" y2="1108.8"/>
<line x1="1234.8" y1="1133.7" x2="1234.8" y2="1122.8"/>
<line x1="1351.1" y1="1133.7" x2="1351.1" y2="1108.8"/>
<line x1="1467.4" y1="1133.7" x2="1467.4" y2="1122.8"/>
</g>
<rect x="954.1" y="39.4" width="623.4" height="326.5" fill="none" stroke="#000" stroke-width="3.5"/>
<g stroke-width="8" stroke-linecap="round">
<line x1="968" y1="94" x2="1173.5" y2="94" stroke="#ff0000"/>
<line x1="968" y1="202" x2="1173.5" y2="202" stroke="#0000ff"/>
<line x1="968" y1="313.5" x2="1173.5" y2="313.5" stroke="#000"/>
</g>
<g font-family="'Liberation Serif', 'Times New Roman', serif" font-weight="bold" fill="#000">
<text x="188.2" y="1236" font-size="92" text-anchor="middle">200</text>
<text x="420.8" y="1236" font-size="92" text-anchor="middle">300</text>
<text x="653.4" y="1236" font-size="92" text-anchor="middle">400</text>
<text x="886.0" y="1236" font-size="92" text-anchor="middle">500</text>
<text x="1118.5" y="1236" font-size="92" text-anchor="middle">600</text>
<text x="1351.1" y="1236" font-size="92" text-anchor="middle">700</text>
<text x="1583.7" y="1236" font-size="92" text-anchor="middle">800</text>
<text transform="translate(430.03,1378.40) scale(1.0329,1)" font-size="107.5">Wave</text>
<text transform="translate(727.56,1378.40) scale(1.0202,1)" font-size="107.5">length</text>
<text transform="translate(1047.45,1378.40) scale(1.1904,1)" font-size="87">(</text>
<text transform="translate(1079.45,1378.40) scale(1.0214,1)" font-size="107.5">nm</text>
<text transform="translate(1229.49,1378.40) scale(1.1886,1)" font-size="76">)</text>
<text transform="translate(101.90,979.07) rotate(-90) scale(0.9898,1)" font-size="111">Absorption</text>
<text transform="translate(101.90,418.23) rotate(-90) scale(1.1273,1)" font-size="97.4">(</text>
<text transform="translate(101.90,383.20) rotate(-90) scale(0.9794,1)" font-size="111">a.u.</text>
<text transform="translate(101.90,215.16) rotate(-90) scale(1.1252,1)" font-size="87.2">)</text>
<text transform="translate(1199.67,123.60) scale(1.0334,1)" font-size="64" stroke="#000" stroke-width="1.3">Ti5%-ZnO</text>
<text transform="translate(1190.96,232.60) scale(1.0358,1)" font-size="64" stroke="#000" stroke-width="1.3">Ti 7.5%-ZnO</text>
<text transform="translate(1188.10,343.60) scale(1.0453,1)" font-size="64" stroke="#000" stroke-width="1.3">ZnO</text>
</g>
</svg>
</body></html>
